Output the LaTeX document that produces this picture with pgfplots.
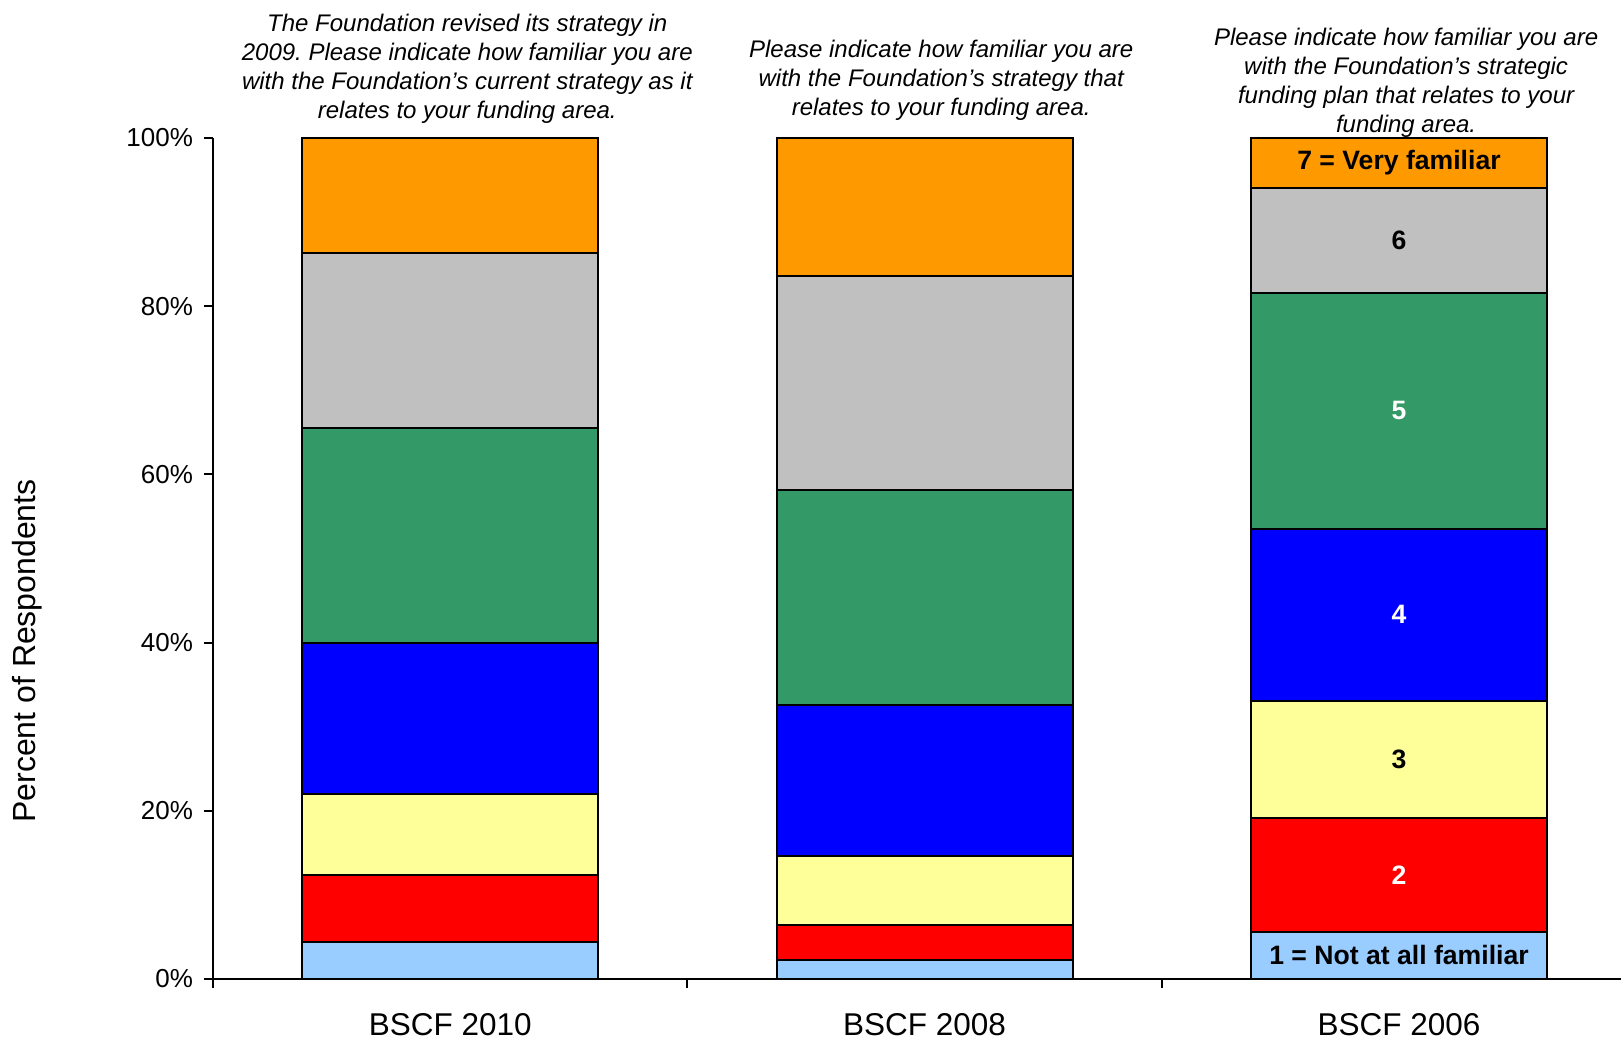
\documentclass[border=0pt]{standalone}
\usepackage{pgfplots}
\pgfplotsset{compat=1.18}
\usepackage{fontspec}
\setmainfont{Liberation Sans}
\frenchspacing
\definecolor{cA}{HTML}{99CCFF}
\definecolor{cB}{HTML}{FF0000}
\definecolor{cC}{HTML}{FFFF99}
\definecolor{cD}{HTML}{0000FF}
\definecolor{cE}{HTML}{339966}
\definecolor{cF}{HTML}{C0C0C0}
\definecolor{cG}{HTML}{FF9900}
\tikzset{
  barlab/.style={font=\fontsize{13.3}{15}\selectfont\bfseries, inner sep=0pt},
  qtitle/.style={font=\fontsize{12}{14.5}\selectfont\itshape, align=center, inner sep=0pt},
}
\begin{document}
\begin{tikzpicture}
\begin{axis}[
  scale only axis, width=704pt, height=420.5pt,
  ybar stacked, bar width=148pt,
  xmin=-0.5, xmax=2.468, ymin=0, ymax=100,
  axis x line*=bottom, axis y line*=left,
  axis line style={line width=1pt, -},
  tick align=outside, major tick length=4.5pt,
  tick style={line width=1pt, black},
  xtick={-0.5,0.5,1.5}, xticklabels={},
  extra x ticks={0,1,2},
  extra x tick labels={BSCF 2010,BSCF 2008,BSCF 2006},
  extra x tick style={major tick length=0pt},
  x tick label style={font=\fontsize{15.75}{18}\selectfont, yshift=-13.7pt},
  ytick={0,20,40,60,80,100},
  yticklabels={0\%,20\%,40\%,60\%,80\%,100\%},
  y tick label style={font=\fontsize{13}{15}\selectfont, xshift=-2pt},
  clip=false,
]
\addplot[fill=cA, draw=black, line width=1pt] coordinates {(0,4.4) (1,2.2) (2,5.6)};
\addplot[fill=cB, draw=black, line width=1pt] coordinates {(0,8.0) (1,4.2) (2,13.6)};
\addplot[fill=cC, draw=black, line width=1pt] coordinates {(0,9.6) (1,8.2) (2,13.9)};
\addplot[fill=cD, draw=black, line width=1pt] coordinates {(0,18.0) (1,18.0) (2,20.4)};
\addplot[fill=cE, draw=black, line width=1pt] coordinates {(0,25.5) (1,25.5) (2,28.1)};
\addplot[fill=cF, draw=black, line width=1pt] coordinates {(0,20.8) (1,25.5) (2,12.5)};
\addplot[fill=cG, draw=black, line width=1pt] coordinates {(0,13.7) (1,16.4) (2,5.9)};

\coordinate (L1) at (axis cs:2,2.8);
\coordinate (L2) at (axis cs:2,12.4);
\coordinate (L3) at (axis cs:2,26.15);
\coordinate (L4) at (axis cs:2,43.3);
\coordinate (L5) at (axis cs:2,67.55);
\coordinate (L6) at (axis cs:2,87.85);
\coordinate (L7) at (axis cs:2,97.05);

\node[qtitle] at (axis cs:0.036,108.2) {The Foundation revised its strategy in\\2009. Please indicate how familiar you are\\with the Foundation’s current strategy as it\\relates to your funding area.};
\node[qtitle] at (axis cs:1.035,106.85) {Please indicate how familiar you are\\with the Foundation’s strategy that\\relates to your funding area.};
\node[qtitle] at (axis cs:2.015,106.55) {Please indicate how familiar you are\\with the Foundation’s strategic\\funding plan that relates to your\\funding area.};

\node[rotate=90, font=\fontsize{16}{19}\selectfont, inner sep=0pt] at (axis cs:-0.892,39) {Percent of Respondents};

\coordinate (BL) at (axis cs:-0.949,-7.13);
\coordinate (TR) at (axis cs:2.468,116.41);
\end{axis}
\node[barlab, text=black] at (L1) {1 = Not at all familiar};
\node[barlab, text=white] at (L2) {2};
\node[barlab, text=black] at (L3) {3};
\node[barlab, text=white] at (L4) {4};
\node[barlab, text=white] at (L5) {5};
\node[barlab, text=black] at (L6) {6};
\node[barlab, text=black] at (L7) {7 = Very familiar};
\pgfresetboundingbox
\path (BL) rectangle (TR);
\end{tikzpicture}
\end{document}
